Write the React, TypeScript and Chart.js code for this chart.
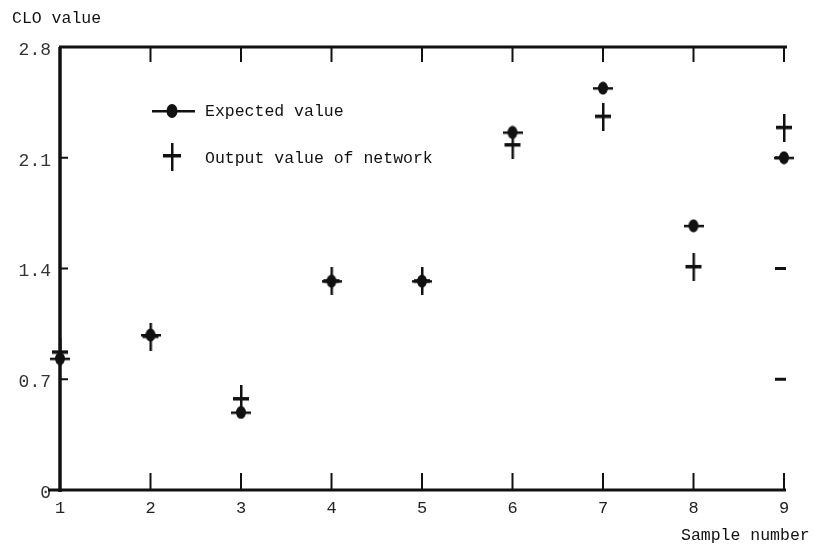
import { useEffect, useRef } from "react";
import { Chart, registerables } from "chart.js";

Chart.register(...registerables);

const sampleNumbers = [1, 2, 3, 4, 5, 6, 7, 8, 9];
const expectedValues = [0.83, 0.98, 0.49, 1.32, 1.32, 2.26, 2.54, 1.67, 2.1];
const outputValues = [0.87, 0.97, 0.575, 1.32, 1.32, 2.18, 2.36, 1.41, 2.29];
const yTickValues = [0, 0.7, 1.4, 2.1, 2.8];
const yTickLabels = ["0", "0.7", "1.4", "2.1", "2.8"];
const seriesNames = ["Expected value", "Output value of network"];

const FONT = '"Liberation Mono", "DejaVu Sans Mono", monospace';
const INK = "#111";

function makeExpectedMarker(): HTMLCanvasElement {
  const c = document.createElement("canvas");
  c.width = 20;
  c.height = 14;
  const g = c.getContext("2d")!;
  g.fillStyle = INK;
  g.fillRect(0, 6, 20, 2.5);
  g.beginPath();
  g.ellipse(10, 7, 5, 6.5, 0, 0, Math.PI * 2);
  g.fill();
  return c;
}

function makeOutputMarker(): HTMLCanvasElement {
  const c = document.createElement("canvas");
  c.width = 18;
  c.height = 28;
  const g = c.getContext("2d")!;
  g.fillStyle = INK;
  g.fillRect(8, 0, 2.5, 28);
  g.fillRect(1, 12, 16, 3.5);
  return c;
}

const framePlugin = {
  id: "frame",
  beforeDatasetsDraw(chart: any) {
    const { ctx, chartArea, scales } = chart;
    const { left, right, top, bottom } = chartArea;
    const xs = scales.x;
    const ys = scales.y;
    ctx.save();
    ctx.strokeStyle = INK;
    ctx.lineCap = "butt";
    ctx.lineWidth = 3;
    ctx.beginPath();
    ctx.moveTo(left - 1, top);
    ctx.lineTo(right + 3, top);
    ctx.stroke();
    ctx.beginPath();
    ctx.moveTo(left - 12, bottom);
    ctx.lineTo(right + 2, bottom);
    ctx.stroke();
    ctx.lineWidth = 3.5;
    ctx.beginPath();
    ctx.moveTo(left, top);
    ctx.lineTo(left, bottom + 2);
    ctx.stroke();
    sampleNumbers.forEach((v) => {
      if (v === 1) return;
      const px = xs.getPixelForValue(v);
      ctx.lineWidth = 2;
      ctx.beginPath();
      ctx.moveTo(px, bottom);
      ctx.lineTo(px, bottom - 17);
      ctx.stroke();
      ctx.beginPath();
      ctx.moveTo(px, top);
      ctx.lineTo(px, top + 15);
      ctx.stroke();
    });
    yTickValues.forEach((v) => {
      if (v === 0 || v === 2.8) return;
      const py = ys.getPixelForValue(v);
      ctx.lineWidth = 2;
      ctx.beginPath();
      ctx.moveTo(left, py);
      ctx.lineTo(left + 8, py);
      ctx.stroke();
      ctx.lineWidth = 3;
      ctx.beginPath();
      ctx.moveTo(right - 9, py);
      ctx.lineTo(right + 2, py);
      ctx.stroke();
    });
    ctx.restore();
  },
  afterDraw(chart: any) {
    const { ctx } = chart;
    ctx.save();
    ctx.fillStyle = INK;
    ctx.font = `16.5px ${FONT}`;
    ctx.textBaseline = "middle";
    ctx.textAlign = "left";
    ctx.fillText("CLO value", 12, 19);
    ctx.fillText("Sample number", 681, 536);
    ctx.fillText(seriesNames[0], 205, 112);
    ctx.fillText(seriesNames[1], 205, 159);
    ctx.fillRect(152, 110, 43, 2.5);
    ctx.beginPath();
    ctx.ellipse(172, 111, 5.5, 7, 0, 0, Math.PI * 2);
    ctx.fill();
    ctx.fillRect(171, 143, 2.5, 28);
    ctx.fillRect(163, 154, 18, 3.5);
    ctx.restore();
  },
};

export default function App() {
  const ref = useRef<HTMLCanvasElement | null>(null);

  useEffect(() => {
    if (!ref.current) return;
    const expMarker = makeExpectedMarker();
    const outMarker = makeOutputMarker();
    const chart = new Chart(ref.current, {
      type: "scatter",
      data: {
        datasets: [
          {
            label: seriesNames[1],
            data: sampleNumbers.map((x, i) => ({ x, y: outputValues[i] })),
            pointStyle: outMarker as any,
            clip: false as any,
          },
          {
            label: seriesNames[0],
            data: sampleNumbers.map((x, i) => ({ x, y: expectedValues[i] })),
            pointStyle: expMarker as any,
            clip: false as any,
          },
        ],
      },
      options: {
        animation: false,
        responsive: false,
        devicePixelRatio: 1,
        layout: { padding: { left: 0, top: 47, right: 31, bottom: 33 } },
        plugins: { legend: { display: false }, tooltip: { enabled: false } },
        scales: {
          x: {
            type: "linear",
            min: 1,
            max: 9,
            grid: { display: false, drawTicks: false },
            border: { display: false },
            afterBuildTicks: (s: any) => {
              s.ticks = sampleNumbers.map((v) => ({ value: v }));
            },
            afterFit: (s: any) => {
              s.height = 30;
            },
            ticks: {
              padding: 8,
              color: "#222",
              font: { family: FONT, size: 17 },
              callback: (v: any) => String(v),
              maxRotation: 0,
              autoSkip: false,
            },
          },
          y: {
            type: "linear",
            min: 0,
            max: 2.8,
            grid: { display: false, drawTicks: false },
            border: { display: false },
            afterBuildTicks: (s: any) => {
              s.ticks = yTickValues.map((v) => ({ value: v }));
            },
            afterFit: (s: any) => {
              s.width = 60;
            },
            ticks: {
              padding: 9,
              labelOffset: 3,
              color: "#333",
              font: { family: FONT, size: 18 },
              callback: (_v: any, i: number) => yTickLabels[i],
            },
          },
        },
      },
      plugins: [framePlugin],
    });
    return () => chart.destroy();
  }, []);

  return (
    <div style={{ position: "absolute", left: 0, top: 0, width: 815, height: 553, background: "#fff" }}>
      <canvas ref={ref} width={815} height={553} style={{ width: 815, height: 553, display: "block" }} />
    </div>
  );
}
